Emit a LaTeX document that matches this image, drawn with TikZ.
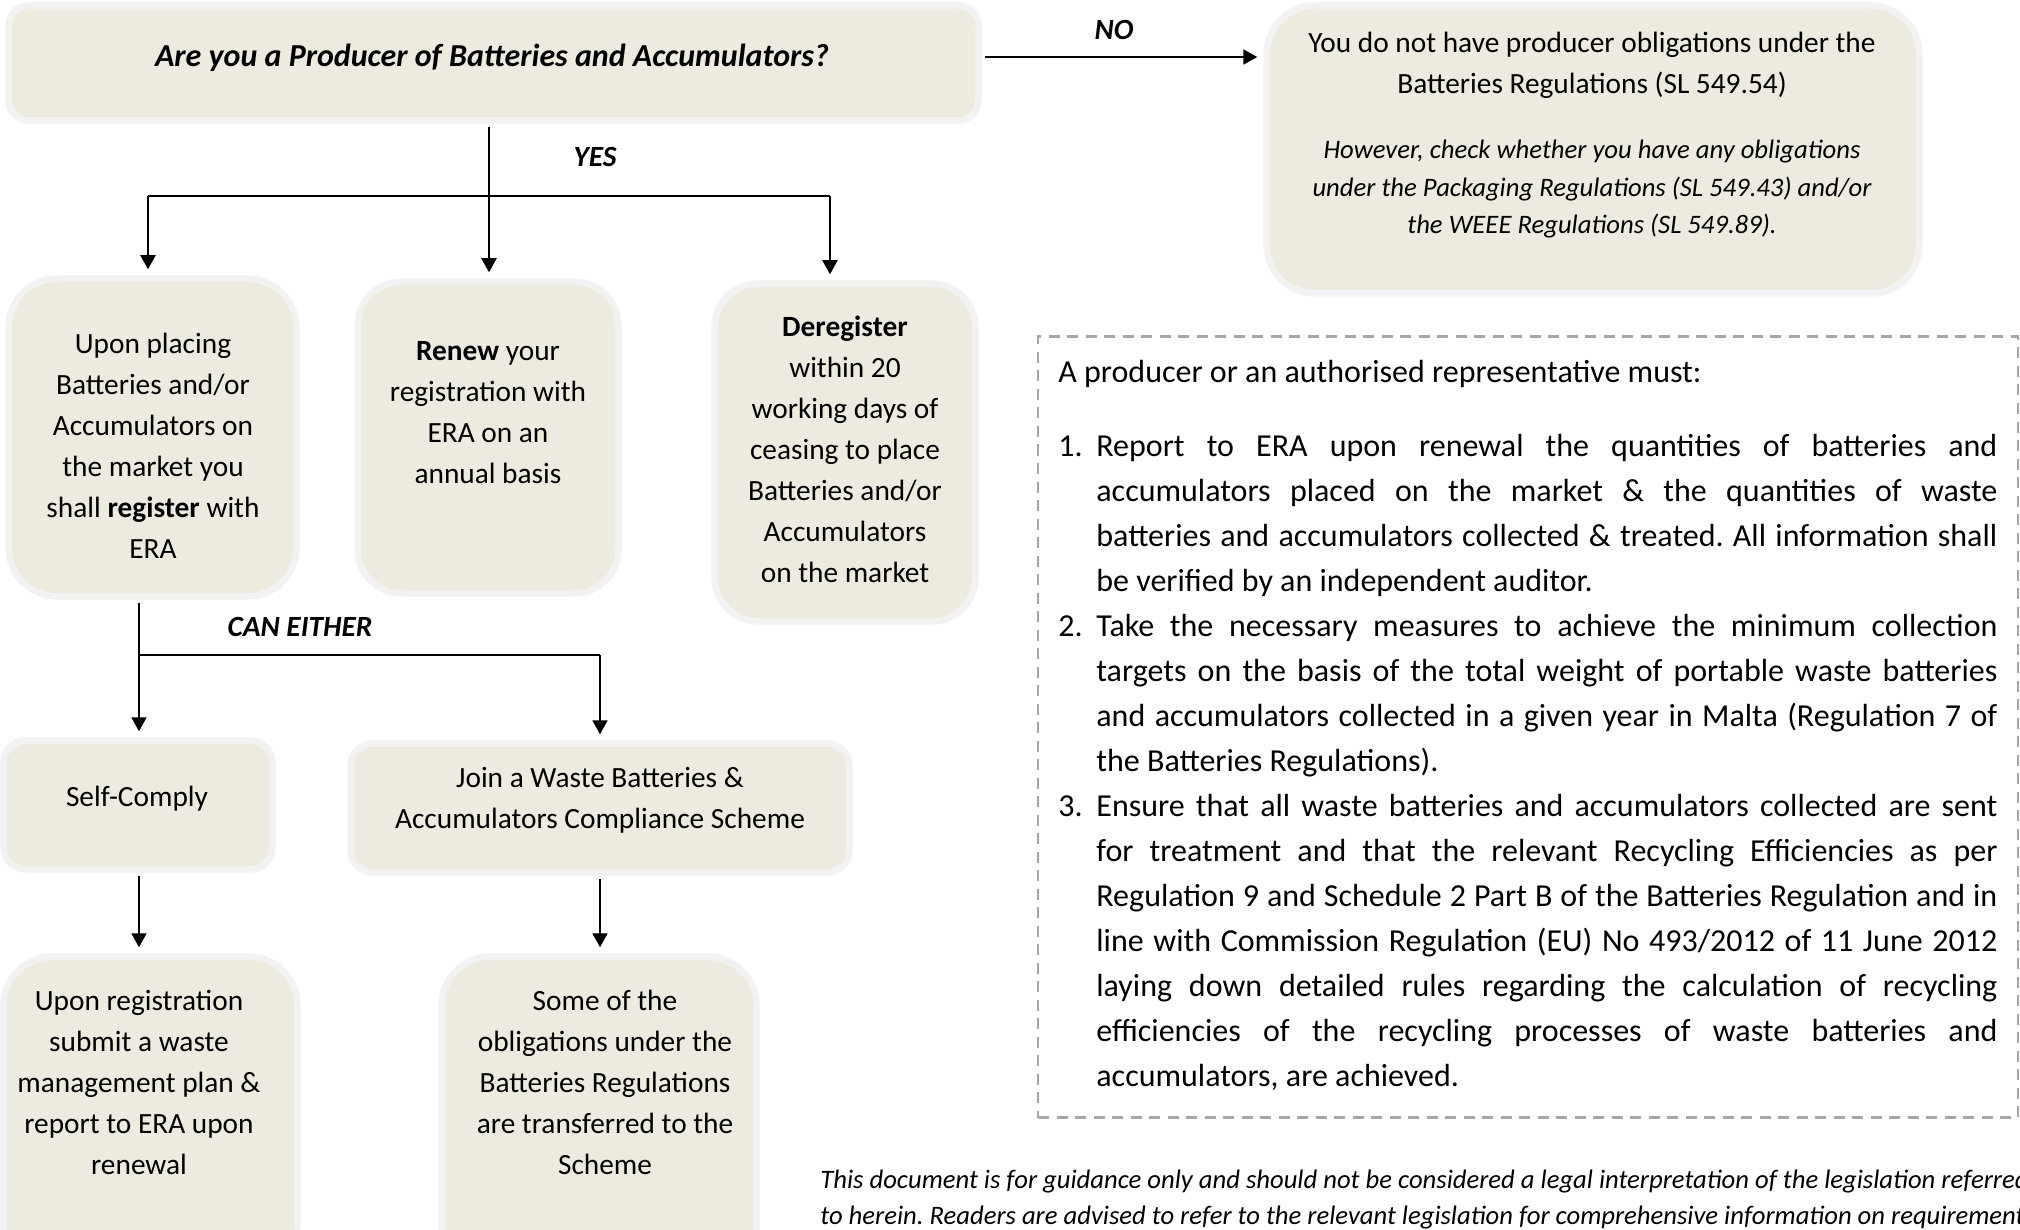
\documentclass[tikz,border=0pt]{standalone}
\usepackage{fontspec}
\setmainfont{Carlito}
\usetikzlibrary{arrows.meta}

\definecolor{boxfill}{RGB}{237,235,224}
\definecolor{boxline}{RGB}{242,242,242}
\definecolor{framegray}{RGB}{166,166,166}

% one justified line of the list, and the item number in front of it
\newcommand{\jline}[1]{\makebox[450.5pt][s]{#1}}
\newcommand{\inum}[1]{\makebox[19pt][l]{#1}}

\frenchspacing
\begin{document}
\begin{tikzpicture}[x=0.5pt,y=-0.5pt,
    box/.style n args={3}{draw=boxline, line width=3.25pt, fill=boxfill,
      rounded corners=#3, minimum width=#1, minimum height=#2, inner sep=0pt},
    txt/.style={align=center, inner sep=0pt, font=\fontsize{14.67}{20.5}\selectfont},
    lbl/.style={inner sep=0pt, font=\fontsize{14.67}{20.5}\selectfont\bfseries\itshape},
    frame/.style={draw=framegray, line width=1.25pt, dash pattern=on 5.5pt off 3.75pt,
      minimum width=490pt, minimum height=390.5pt},
    link/.style={line width=1pt},
    arr/.style={link, -{Triangle[width=7.5pt,length=7pt]}, shorten >=3pt}]
  \useasboundingbox (0,0) rectangle (2020,1230);

  % boxes
  \node[box={485pt}{57.5pt}{10pt}]     (q)     at (493.5,63) {};
  \node[box={326.5pt}{144pt}{24.5pt}]  (nob)   at (1593,149.5) {};
  \node[box={144pt}{159pt}{24.5pt}]    (reg)   at (152.5,437.5) {};
  \node[box={130.5pt}{156pt}{22pt}]    (renew) at (488,437.5) {};
  \node[box={130.5pt}{169pt}{22pt}]    (dereg) at (845,452.5) {};
  \node[box={134.5pt}{64.5pt}{11pt}]   (self)  at (138,805) {};
  \node[box={249.5pt}{64.5pt}{11pt}]   (join)  at (600,808) {};
  \node[box={147pt}{160pt}{24.5pt}]    (plan)  at (150.5,1116.5) {};
  \node[box={157.5pt}{160pt}{24.5pt}]  (trans) at (599,1116.5) {};

  % box texts
  \node[txt, font=\fontsize{16}{22.5}\selectfont\bfseries\itshape] (qt) at (492,58)
    {Are you a Producer of Batteries and Accumulators?};
  \node[txt] (nobt) at (1592,65)
    {You do not have producer obligations under the\\Batteries Regulations (SL 549.54)};
  \node[txt, font=\fontsize{13.33}{18.75}\selectfont\itshape] (nobi) at (1592,189.5)
    {However, check whether you have any obligations\\under the Packaging Regulations (SL 549.43) and/or\\the WEEE Regulations (SL 549.89).};
  \node[txt] (regt) at (153,445.5)
    {Upon placing\\Batteries and/or\\Accumulators on\\the market you\\shall \textbf{register} with\\ERA};
  \node[txt] (renewt) at (488,412.5)
    {\textbf{Renew} your\\registration with\\ERA on an\\annual basis};
  \node[txt] (deregt) at (845,449)
    {\textbf{Deregister}\\within 20\\working days of\\ceasing to place\\Batteries and/or\\Accumulators\\on the market};
  \node[txt] (selft) at (137,799) {Self-Comply};
  \node[txt] (joint) at (600,800.5)
    {Join a Waste Batteries \&\\Accumulators Compliance Scheme};
  \node[txt] (plant) at (139,1082)
    {Upon registration\\submit a waste\\management plan \&\\report to ERA upon\\renewal};
  \node[txt] (transt) at (605,1082)
    {Some of the\\obligations under the\\Batteries Regulations\\are transferred to the\\Scheme};

  % branch labels
  \node[lbl] (yeslbl) at (595,157) {YES};
  \node[lbl] (nolbl)  at (1114,30) {NO};
  \node[lbl] (celbl)  at (300,627) {CAN EITHER};

  % yes branch
  \coordinate (yes)  at (489,196);
  \coordinate (yesl) at (148,196);
  \coordinate (yesr) at (830,196);
  \draw[link, shorten <=1.5pt] (q.south -| yes) -- (yes);
  \draw[link] (yesl) -- (yesr);
  \draw[arr] (yesl) -- (yesl |- reg.north);
  \draw[arr] (yes) -- (yes |- renew.north);
  \draw[arr] (yesr) -- (yesr |- dereg.north);

  % no branch
  \draw[arr, shorten <=1.5pt] ([yshift=3pt]q.east) -- ([yshift=3pt]q.east -| nob.west);

  % self-comply or scheme
  \coordinate (ce)  at (139,655);
  \coordinate (cer) at (600,655);
  \draw[link, shorten <=1.5pt] (reg.south -| ce) -- (ce) -- (cer);
  \draw[arr] (ce) -- (ce |- self.north);
  \draw[arr] (cer) -- (cer |- join.north);
  \draw[arr, shorten <=1.5pt] (self.south -| ce) -- (ce |- plan.north);
  \draw[arr, shorten <=1.5pt] (join.south -| cer) -- (cer |- trans.north);

  % obligations
  \node[frame] (oblig) at (1528,727) {};
  \node[anchor=base west, inner sep=0pt, font=\fontsize{16}{22.5}\selectfont] (intro) at (1058,383)
    {A producer or an authorised representative must:};
  \node[anchor=north west, inner sep=0pt, align=left, font=\fontsize{16}{22.5}\selectfont] (rules) at (1058,434)
    {\inum{1.}\jline{Report to ERA upon renewal the quantities of batteries and}\\
     \inum{}\jline{accumulators placed on the market \& the quantities of waste}\\
     \inum{}\jline{batteries and accumulators collected \& treated. All information shall}\\
     \inum{}be verified by an independent auditor.\\
     \inum{2.}\jline{Take the necessary measures to achieve the minimum collection}\\
     \inum{}\jline{targets on the basis of the total weight of portable waste batteries}\\
     \inum{}\jline{and accumulators collected in a given year in Malta (Regulation 7 of}\\
     \inum{}the Batteries Regulations).\\
     \inum{3.}\jline{Ensure that all waste batteries and accumulators collected are sent}\\
     \inum{}\jline{for treatment and that the relevant Recycling Efficiencies as per}\\
     \inum{}\jline{Regulation 9 and Schedule 2 Part B of the Batteries Regulation and in}\\
     \inum{}\jline{line with Commission Regulation (EU) No 493/2012 of 11 June 2012}\\
     \inum{}\jline{laying down detailed rules regarding the calculation of recycling}\\
     \inum{}\jline{efficiencies of the recycling processes of waste batteries and}\\
     \inum{}accumulators, are achieved.};

  % disclaimer
  \node[anchor=west, inner sep=0pt, align=left, font=\fontsize{13.33}{18}\selectfont\itshape] (disc) at (820,1200)
    {This document is for guidance only and should not be considered a legal interpretation of the legislation referred\\
     to herein. Readers are advised to refer to the relevant legislation for comprehensive information on requirements.};
\end{tikzpicture}
\end{document}
